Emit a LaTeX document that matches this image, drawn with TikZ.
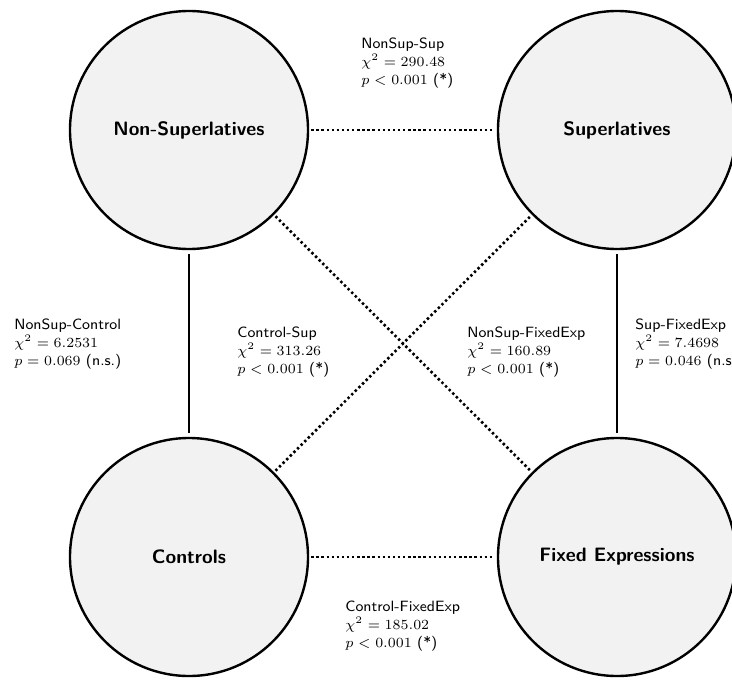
\documentclass[tikz,border=0pt]{standalone}
\usetikzlibrary{shapes.geometric}
\begin{document}
\begin{tikzpicture}[x=0.5pt,y=-0.5pt,
  group/.style={circle,draw=black,line width=1.2pt,fill=black!5,minimum size=119pt,inner sep=0pt,
    font=\sffamily\bfseries\fontsize{9.7}{11}\selectfont},
  solidlink/.style={line width=1.1pt,shorten <=2pt,shorten >=2pt},
  dotlink/.style={line width=1.3pt,dash pattern=on 1.2pt off 1.35pt,shorten <=1pt,shorten >=1.5pt},
  stat/.style={anchor=west,align=left,inner sep=0pt,font=\sffamily\fontsize{7.45}{9}\selectfont}]
\useasboundingbox (0,0) rectangle (732,680);
\node[group] (ns) at (189,130) {Non-Superlatives};
\node[group] (sup) at (617,130) {Superlatives};
\node[group] (ctrl) at (189,557) {Controls};
\node[group] (fe) at (617,557) {Fixed Expressions};
\draw[dotlink] (ns) -- (sup);
\draw[dotlink] (ctrl) -- (fe);
\draw[dotlink] (ns) -- (fe);
\draw[dotlink] (ctrl) -- (sup);
\draw[solidlink] (ns) -- (ctrl);
\draw[solidlink] (sup) -- (fe);
\node[stat] (l1) at (361,63) {NonSup-Sup\\$\chi^2 = 290.48$\\$p < 0.001$ (*)};
\node[stat] (l2) at (14,344) {NonSup-Control\\$\chi^2 = 6.2531$\\$p = 0.069$ (n.s.)};
\node[stat] (l3) at (237,352) {Control-Sup\\$\chi^2 = 313.26$\\$p < 0.001$ (*)};
\node[stat] (l4) at (467,352) {NonSup-FixedExp\\$\chi^2 = 160.89$\\$p < 0.001$ (*)};
\node[stat] (l5) at (635,344) {Sup-FixedExp\\$\chi^2 = 7.4698$\\$p = 0.046$ (n.s.)};
\node[stat] (l6) at (345,626) {Control-FixedExp\\$\chi^2 = 185.02$\\$p < 0.001$ (*)};
\end{tikzpicture}
\end{document}
